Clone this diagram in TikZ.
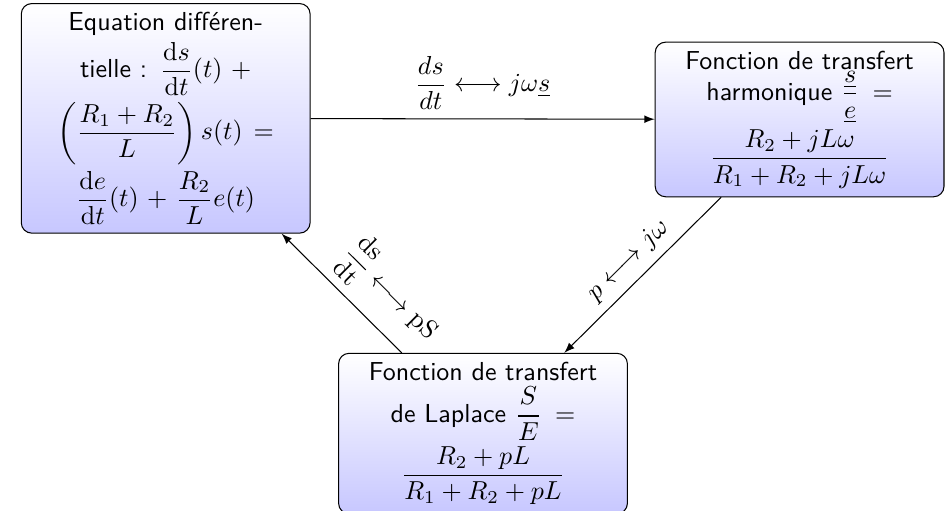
\documentclass[tikz,border=0pt]{standalone}
\usepackage{amsmath}
\hyphenation{différen-tielle transfert}

\begin{document}
\begin{tikzpicture}[
    bloc/.style={rectangle, draw, top color=white, bottom color=blue!22, text width=3.67cm, align=center, rounded corners, font=\sffamily\setlength{\lineskip}{2.5pt}},
    lien/.style={draw, -latex}
]
    \useasboundingbox (0,0) rectangle (12.83,-6.9);
    \node [bloc] (equa) at (2.24,-1.60) {Equation différentielle : $\dfrac{\mathrm{d}s}{\mathrm{d}t}(t) + \left(\dfrac{R_1+R_2}{L}\right)s(t) = \dfrac{\mathrm{d}e}{\mathrm{d}t}(t) + \dfrac{R_2}{L}e(t)$};
    \node [bloc] (harmo) at (10.81,-1.615) {Fonction de transfert harmonique $\dfrac{\underline{s}}{\underline{e}} = \dfrac{R_2+jL\omega}{R_1+R_2+jL\omega}$};
    \node [bloc, anchor=north] (lapl) at (6.53,-4.77) {Fonction de transfert de Laplace $\dfrac{S}{E} =$\\$\dfrac{R_2+pL}{R_1+R_2+pL}$};

    \draw [lien] (equa) -- node[above] {$\dfrac{ds}{dt} \longleftrightarrow j\omega\underline{s}$} (harmo);
    \draw [lien] (harmo) -- node[above, sloped] {$p \longleftrightarrow j\omega$} (lapl);
    \draw [lien] (lapl) -- node[above, sloped, pos=0.3] {$\dfrac{\mathrm{ds}}{\mathrm{dt}} \longleftrightarrow \mathrm{pS}$} (equa);
\end{tikzpicture}
\end{document}
